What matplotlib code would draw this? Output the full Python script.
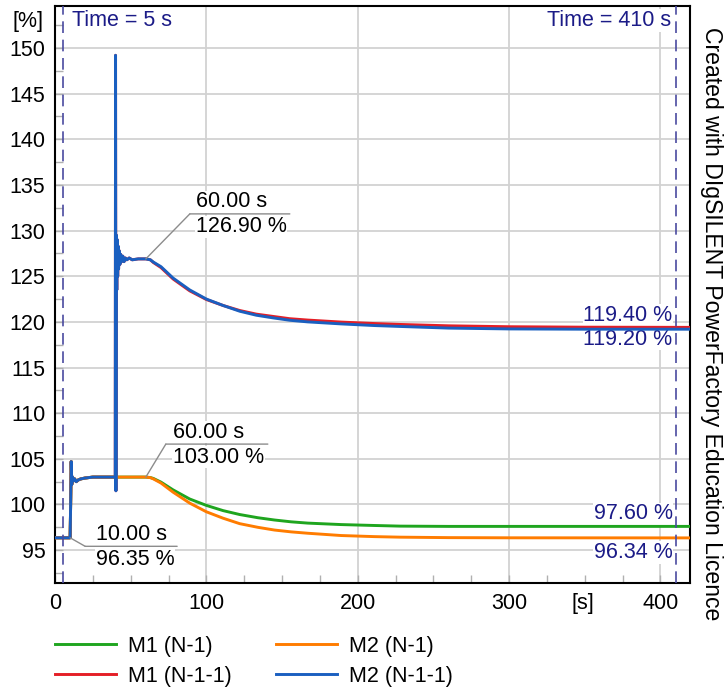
import matplotlib
matplotlib.use("Agg")
import matplotlib.pyplot as plt
import matplotlib.transforms as mtrans
from matplotlib.ticker import MultipleLocator
import numpy as np

plt.rcParams['font.family'] = ['Liberation Sans', 'DejaVu Sans']
plt.rcParams['font.size'] = 15.5

# time axis [s] for the N-1 runs
t_n1 = [0, 10, 10.4, 10.7, 11.1, 11.6, 12.2, 13, 14, 15.5, 17, 20, 25, 30, 40, 50, 60,
        63, 65, 70, 78, 89, 100, 111, 122, 134, 145, 156, 167, 189, 211, 228, 260, 300, 420]
m1_n1 = [96.35, 96.35, 100.8, 104.7, 102.2, 103.0, 102.6, 102.8, 102.5, 102.7, 102.8, 102.9, 103.0, 103.0, 103.0, 103.0, 103.0,
         102.95, 102.85, 102.45, 101.6, 100.6, 99.9, 99.33, 98.9, 98.55, 98.3, 98.1, 97.96, 97.8, 97.7, 97.63, 97.6, 97.6, 97.6]
m2_n1 = [96.35, 96.35, 100.8, 104.7, 102.2, 103.0, 102.6, 102.8, 102.5, 102.7, 102.8, 102.9, 103.0, 103.0, 103.0, 103.0, 103.0,
         102.94, 102.8, 102.35, 101.35, 100.15, 99.2, 98.5, 97.9, 97.5, 97.2, 97.0, 96.85, 96.6, 96.48, 96.42, 96.37, 96.35, 96.34]

# time axis [s] for the N-1-1 runs (second outage at 40 s)
t_n11 = [0, 10, 10.4, 10.7, 11.1, 11.6, 12.2, 13, 14, 15.5, 17, 20, 25, 30, 39.8,
         40.0, 40.25, 40.5, 40.8, 41.1, 41.4, 41.7, 42.0, 42.4, 42.9, 43.4, 44.0, 44.8, 45.6, 46.5, 47.5, 49, 51, 55, 60,
         63, 65, 70, 78, 89, 100, 111, 122, 133, 144, 155, 167, 189, 211, 228, 260, 300, 350, 420]
m1_n11 = [96.35, 96.35, 100.8, 104.7, 102.2, 103.0, 102.6, 102.8, 102.5, 102.7, 102.8, 102.9, 103.0, 103.0, 103.0,
          149.2, 101.5, 129.5, 123.5, 129.0, 125.0, 128.3, 125.8, 127.8, 126.3, 127.4, 126.6, 127.2, 126.6, 127.0, 126.8, 127.0, 126.8, 126.9, 126.9,
          126.8, 126.5, 125.95, 124.7, 123.4, 122.45, 121.8, 121.25, 120.85, 120.6, 120.35, 120.2, 119.98, 119.82, 119.72, 119.57, 119.47, 119.42, 119.4]
m2_n11 = [96.35, 96.35, 100.8, 104.7, 102.2, 103.0, 102.6, 102.8, 102.5, 102.7, 102.8, 102.9, 103.0, 103.0, 103.0,
          149.2, 101.5, 129.5, 123.5, 129.0, 125.0, 128.3, 125.8, 127.8, 126.3, 127.4, 126.6, 127.2, 126.6, 127.0, 126.8, 127.0, 126.8, 126.9, 126.9,
          126.8, 126.55, 126.05, 124.8, 123.5, 122.5, 121.8, 121.17, 120.73, 120.44, 120.18, 120.0, 119.78, 119.6, 119.5, 119.32, 119.23, 119.2, 119.2]

cursor_times = [5, 410]
navy = '#1b1b87'
grey = '#8c8c8c'

fig = plt.figure(figsize=(7.24, 6.89), dpi=100)
ax = fig.add_axes([55/724, 106/689, 635/724, 577/689])

ax.plot(t_n1, m1_n1, color='#1fa51f', lw=2.1, label='M1 (N-1)', zorder=3)
ax.plot(t_n11, m1_n11, color='#e41e26', lw=2.1, label='M1 (N-1-1)', zorder=3)
ax.plot(t_n1, m2_n1, color='#ff7c00', lw=2.1, label='M2 (N-1)', zorder=3)
ax.plot(t_n11, m2_n11, color='#1a5fc0', lw=2.1, label='M2 (N-1-1)', zorder=3)

for tc in cursor_times:
    ax.axvline(tc, color='#4a4aa0', lw=1.2, ls=(0, (7, 4)), zorder=4)

ax.set_xlim(0, 419.5)
ax.set_ylim(91.4, 154.6)
ax.xaxis.set_major_locator(MultipleLocator(100))
ax.xaxis.set_minor_locator(MultipleLocator(25))
ax.yaxis.set_minor_locator(MultipleLocator(2.5))
ax.set_yticks(np.arange(95, 151, 5))
ax.grid(True, which='major', color='#d2d2d2', lw=1.3)
ax.set_axisbelow(True)
ax.tick_params(which='both', direction='in', length=6, color='#b0b0b0', width=1, top=False, right=False)
ax.tick_params(which='major', pad=7, labelsize=15.5)
for sp in ax.spines.values():
    sp.set_linewidth(1.5)

fig.text(28/724, 1 - 21.7/689, '[%]', ha='center', va='center')
ax.annotate('[s]', xy=(349, 0), xycoords=('data', 'axes fraction'), xytext=(0, -7),
            textcoords='offset points', ha='center', va='top')

box = dict(boxstyle='square,pad=0.03', fc='white', ec='none')


def off(dx, dy, base=None):
    return mtrans.offset_copy(base if base is not None else ax.transData, fig=fig, x=dx, y=dy, units='dots')


# cursor time labels
ax.text(cursor_times[0], 0.975, 'Time = %d s' % cursor_times[0], color=navy, ha='left', va='center',
        transform=off(9.6, 0, ax.get_xaxis_transform()), bbox=box, zorder=2.5)
ax.text(cursor_times[1], 0.975, 'Time = %d s' % cursor_times[1], color=navy, ha='right', va='center',
        transform=off(-4, 0, ax.get_xaxis_transform()), bbox=box, zorder=2.5)


def cursor(t, v, dx, dy, w, tpad):
    ap = dict(arrowstyle='-', color=grey, lw=1, shrinkA=0, shrinkB=0)
    ax.annotate('', xy=(t, v), xytext=(t, v), textcoords=off(dx, dy), arrowprops=ap, zorder=5)
    ax.annotate('', xy=(t, v), xycoords=off(dx + w, dy), xytext=(t, v), textcoords=off(dx, dy),
                arrowprops=ap, zorder=5)
    ax.text(t, v, '%.2f s' % t, transform=off(dx + tpad, dy + 12), ha='left', va='center', bbox=box, zorder=2.5)
    ax.text(t, v, '%.2f %%' % v, transform=off(dx + tpad, dy - 13), ha='left', va='center', bbox=box, zorder=2.5)


cursor(10, np.interp(10, t_n1, m1_n1), 15, -8.5, 92, 11)
cursor(60, np.interp(60, t_n1, m2_n1), 20, 33, 102, 7)
cursor(60, np.interp(60, t_n11, m2_n11), 44, 45, 100, 6)

# values at the right cursor
t_end = cursor_times[1]
for series, t, dy in [(m1_n11, t_n11, 11.7), (m2_n11, t_n11, -10), (m1_n1, t_n1, 12.7), (m2_n1, t_n1, -14.5)]:
    v = np.interp(t_end, t, series)
    ax.text(t_end, v, '%.2f %%' % v, color=navy, ha='right', va='center',
            transform=off(-3, dy), bbox=box, zorder=2.5)

fig.legend(loc='upper left', bbox_to_anchor=(55/724, 1 - 636/689), ncol=2, frameon=False,
           borderpad=0, borderaxespad=0, handlelength=2.84, handletextpad=0.54,
           labelspacing=0.4, columnspacing=2.07, fontsize=15.5)

fig.text(712/724, 1 - 324/689, 'Created with DIgSILENT PowerFactory Education Licence',
         rotation=-90, ha='center', va='center', fontsize=16.6)

fig.savefig('out.png', dpi=100)
